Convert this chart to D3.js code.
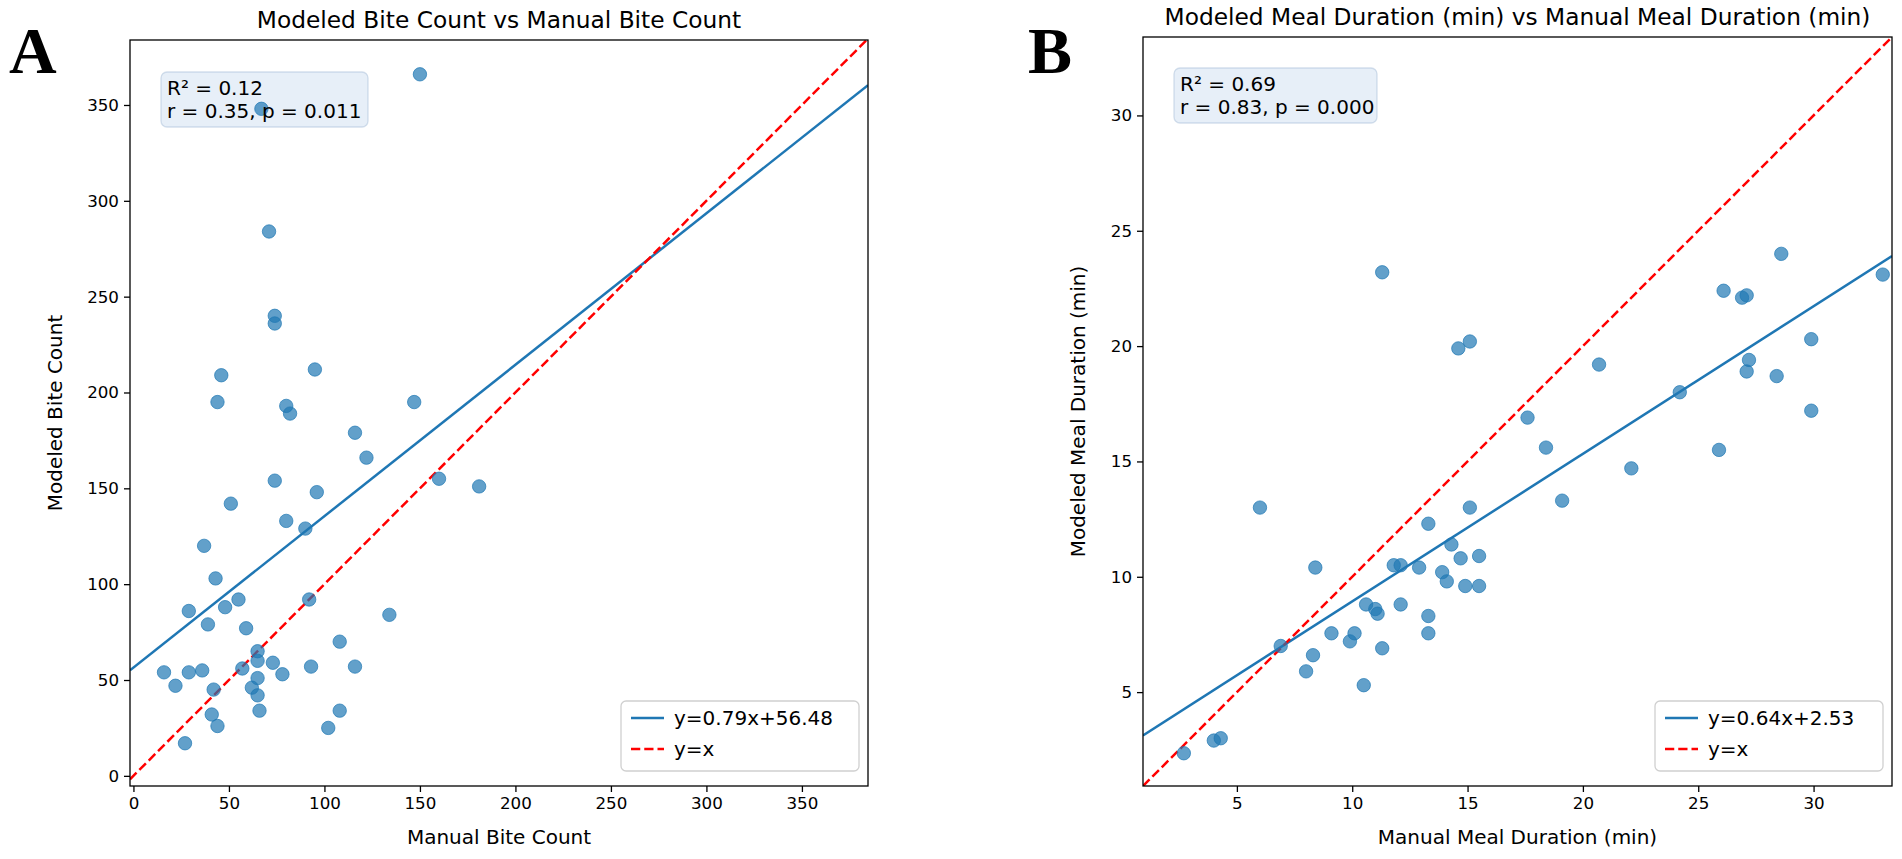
<!DOCTYPE html>
<html><head><meta charset="utf-8">
<script src="https://cdn.jsdelivr.net/npm/d3@7"></script>
<style>
body{margin:0;background:#fff}
svg{display:block}
text{fill:#000}
</style>
</head><body>
<svg id="chart" width="1902" height="859"></svg>
<script>
// ---------- Data ----------
const biteManual  = [150, 67, 71, 74, 74, 46, 95, 44, 80, 82, 147, 116, 122, 74, 96, 51, 80, 90, 37, 43, 55, 92, 29, 48, 134, 39, 59, 108, 65, 65, 160, 181, 16, 22, 29, 36, 42, 57, 73, 78, 93, 116, 65, 62, 65, 41, 27, 44, 66, 102, 108];
const biteModeled = [366, 348, 284, 240, 236, 209, 212, 195, 193, 189, 195, 179, 166, 154, 148, 142, 133, 129, 120, 103, 92, 92, 86, 88, 84, 79, 77, 70, 65, 60, 155, 151, 54, 47, 54, 55, 45, 56, 59, 53, 57, 57, 51, 46, 42, 32, 17, 26, 34, 25, 34];

const durManual  = [11.3, 14.6, 15.1, 17.6, 18.4, 19.1, 6.0, 15.1, 13.3, 14.3, 14.7, 15.5, 8.4, 11.8, 12.1, 12.9, 13.9, 14.1, 14.9, 15.5, 10.6, 11.0, 11.1, 12.1, 13.3, 13.3, 9.1, 10.1, 9.9, 11.3, 6.9, 8.3, 8.0, 10.5, 2.7, 4.0, 4.3, 28.6, 33.0, 26.1, 26.9, 27.1, 27.2, 27.1, 28.4, 29.9, 29.9, 24.2, 25.9, 22.1, 20.7];
const durModeled = [23.2, 19.9, 20.2, 16.9, 15.6, 13.3, 13.0, 13.0, 12.3, 11.4, 10.8, 10.9, 10.4, 10.5, 10.5, 10.4, 10.2, 9.8, 9.6, 9.6, 8.8, 8.6, 8.4, 8.8, 8.3, 7.55, 7.55, 7.55, 7.2, 6.9, 7.0, 6.6, 5.9, 5.3, 2.35, 2.9, 3.0, 24.0, 23.1, 22.4, 22.1, 22.2, 19.4, 18.9, 18.7, 20.3, 17.2, 18.0, 15.5, 14.7, 19.2];

const biteTicks = [0, 50, 100, 150, 200, 250, 300, 350];
const durTicks  = [5, 10, 15, 20, 25, 30];

const biteFit = [0.79, 56.48];   // slope, intercept
const durFit  = [0.64, 2.53];

const biteStats = ["R\u00b2 = 0.12", "r = 0.35, p = 0.011"];
const durStats  = ["R\u00b2 = 0.69", "r = 0.83, p = 0.000"];

const biteLegend = ["y=0.79x+56.48", "y=x"];
const durLegend  = ["y=0.64x+2.53", "y=x"];

// ---------- Drawing ----------
const svg = d3.select("#chart");
const BLUE = "#1f77b4";
const SANS = "'DejaVu Sans', sans-serif";

function txt(sel, size) {
  return sel.style("font-family", SANS).style("font-size", size + "px");
}

function panel(o) {
  const x = d3.scaleLinear().domain(o.xdom).range([o.left, o.right]);
  const y = d3.scaleLinear().domain(o.ydom).range([o.bottom, o.top]);
  const g = svg.append("g");
  const clipId = "clip" + o.id;
  svg.append("clipPath").attr("id", clipId).append("rect")
    .attr("x", o.left).attr("y", o.top).attr("width", o.right - o.left).attr("height", o.bottom - o.top);

  const plot = g.append("g").attr("clip-path", `url(#${clipId})`);

  // fit line
  const xd = x.domain();
  plot.append("line")
    .attr("x1", x(xd[0])).attr("y1", y(o.fit[0] * xd[0] + o.fit[1]))
    .attr("x2", x(xd[1])).attr("y2", y(o.fit[0] * xd[1] + o.fit[1]))
    .attr("stroke", BLUE).attr("stroke-width", 2.5);
  // y = x
  plot.append("line")
    .attr("x1", x(xd[0])).attr("y1", y(xd[0]))
    .attr("x2", x(xd[1])).attr("y2", y(xd[1]))
    .attr("stroke", "#ff0000").attr("stroke-width", 2.5).attr("stroke-dasharray", "9.25,4");

  // stats box background (semi-transparent, under the points)
  const sx = o.left + o.stat[0], sy = o.top + o.stat[1];
  g.append("rect").attr("x", sx).attr("y", sy)
    .attr("width", o.stat[2]).attr("height", 55).attr("rx", 6)
    .attr("fill", "#cfdff1").attr("fill-opacity", 0.5)
    .attr("stroke", "#a9c0da").attr("stroke-opacity", 0.5).attr("stroke-width", 1.3);

  // points
  const pts = g.append("g").attr("clip-path", `url(#${clipId})`);
  pts.selectAll("circle").data(o.xs.map((v, i) => [v, o.ys[i]])).enter().append("circle")
    .attr("cx", d => x(d[0])).attr("cy", d => y(d[1])).attr("r", 6.7)
    .attr("fill", BLUE).attr("fill-opacity", 0.7)
    .attr("stroke", BLUE).attr("stroke-opacity", 0.7).attr("stroke-width", 1);

  // stats text
  o.stats.forEach((t, i) => {
    txt(g.append("text").attr("x", sx + 6).attr("y", sy + 23 + i * 23), 20).text(t);
  });

  // axes
  const ax = g.append("g").attr("transform", `translate(0,${o.bottom})`)
    .call(d3.axisBottom(x).tickValues(o.ticks).tickSize(6).tickSizeOuter(0).tickPadding(5).tickFormat(d3.format("d")));
  const ay = g.append("g").attr("transform", `translate(${o.left},0)`)
    .call(d3.axisLeft(y).tickValues(o.ticks).tickSize(6).tickSizeOuter(0).tickPadding(5).tickFormat(d3.format("d")));
  [ax, ay].forEach(a => {
    a.select(".domain").remove();
    a.selectAll(".tick line").attr("stroke", "#000").attr("stroke-width", 1.3);
    txt(a.selectAll(".tick text"), 16.7).attr("fill", "#000");
  });

  // frame
  g.append("rect").attr("x", o.left).attr("y", o.top)
    .attr("width", o.right - o.left).attr("height", o.bottom - o.top)
    .attr("fill", "none").attr("stroke", "#000").attr("stroke-width", 1.3);

  // title & labels
  const cx = (o.left + o.right) / 2, cy = (o.top + o.bottom) / 2;
  txt(g.append("text").attr("x", cx).attr("y", o.top - 12).attr("text-anchor", "middle"), 23.3).text(o.title);
  txt(g.append("text").attr("x", cx).attr("y", o.bottom + 58).attr("text-anchor", "middle"), 20).text(o.xlabel);
  txt(g.append("text").attr("transform", `translate(${o.ylabX},${cy}) rotate(-90)`).attr("text-anchor", "middle"), 20).text(o.ylabel);

  // legend
  const lg = g.append("g");
  const lw = o.legW, lh = 70;
  const lx = o.right - 9 - lw, ly = o.bottom - 15 - lh;
  lg.append("rect").attr("x", lx).attr("y", ly).attr("width", lw).attr("height", lh).attr("rx", 5)
    .attr("fill", "#fff").attr("fill-opacity", 0.8).attr("stroke", "#d0d0d0").attr("stroke-width", 1.3);
  o.legend.forEach((t, i) => {
    const yy = ly + 17 + i * 31;
    lg.append("line").attr("x1", lx + 10).attr("x2", lx + 43).attr("y1", yy).attr("y2", yy)
      .attr("stroke", i === 0 ? BLUE : "#ff0000").attr("stroke-width", 2.5)
      .attr("stroke-dasharray", i === 0 ? null : "9.25,4");
    txt(lg.append("text").attr("x", lx + 53).attr("y", yy + 7), 20).text(t);
  });

  // panel letter
  svg.append("text").attr("x", o.letter[0]).attr("y", o.letter[1])
    .style("font-family", "'Liberation Serif', 'Times New Roman', serif")
    .style("font-weight", "bold").style("font-size", "66px").text(o.id);
}

panel({
  id: "A", xs: biteManual, ys: biteModeled,
  xdom: [-1.8, 384.6], ydom: [-5.3, 383.9],
  left: 130, right: 868, top: 40, bottom: 786,
  ticks: biteTicks, fit: biteFit,
  title: "Modeled Bite Count vs Manual Bite Count",
  xlabel: "Manual Bite Count", ylabel: "Modeled Bite Count", ylabX: 62,
  stats: biteStats, stat: [31, 32, 207],
  legend: biteLegend, legW: 238,
  letter: [9, 73]
});

panel({
  id: "B", xs: durManual, ys: durModeled,
  xdom: [0.93, 33.4], ydom: [0.93, 33.4],
  left: 1143, right: 1892, top: 37, bottom: 786,
  ticks: durTicks, fit: durFit,
  title: "Modeled Meal Duration (min) vs Manual Meal Duration (min)",
  xlabel: "Manual Meal Duration (min)", ylabel: "Modeled Meal Duration (min)", ylabX: 1085,
  stats: durStats, stat: [31, 31, 203],
  legend: durLegend, legW: 228,
  letter: [1028, 73]
});
</script>
</body></html>
